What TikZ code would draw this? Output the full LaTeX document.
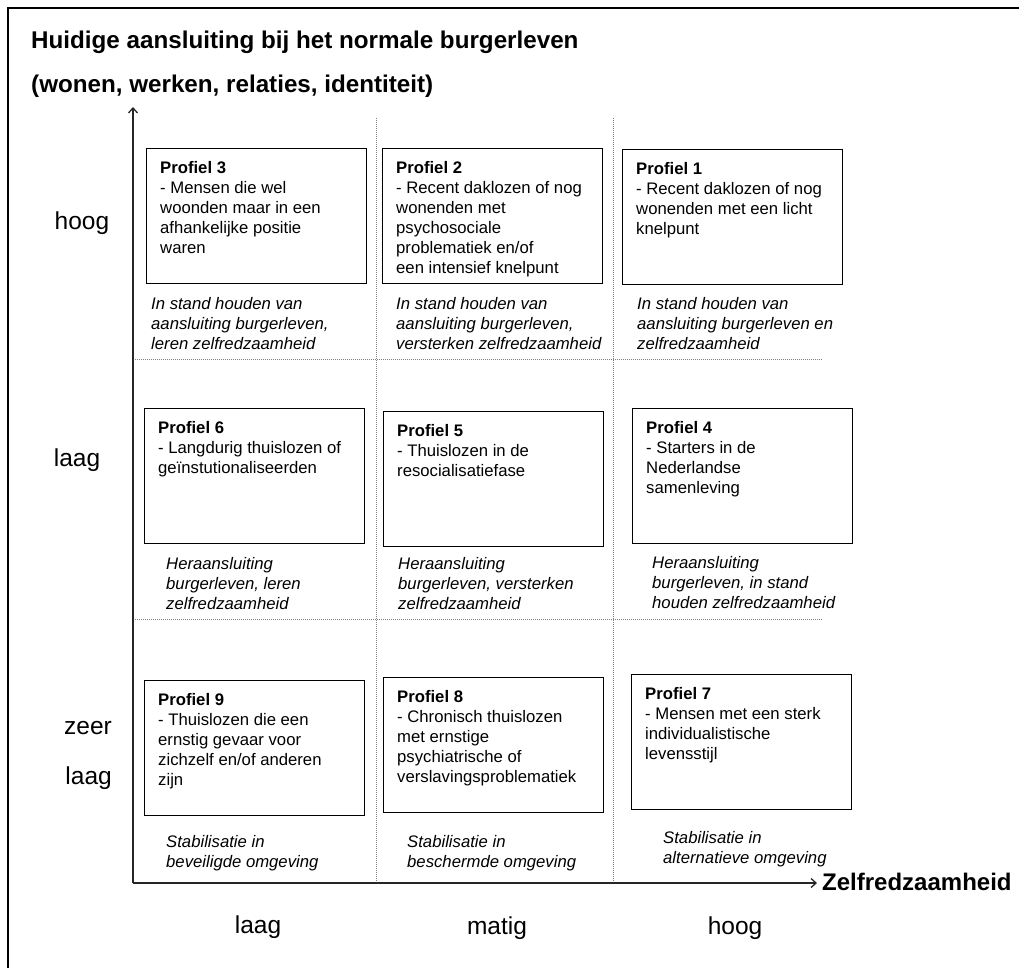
\documentclass[tikz,border=0pt]{standalone}
\usepackage{fontspec}
\setmainfont{Liberation Sans}
\usetikzlibrary{positioning, arrows.meta, calc}

\begin{document}
\begin{tikzpicture}[x=1pt, y=-1pt]
		\tikzset{
			>={Straight Barb[length=5pt, width=9pt]},
			pbox/.style={draw, line width=1.4pt, minimum width=219.5pt, minimum height=135pt, anchor=north west, inner sep=0pt},
			ptext/.style={anchor=north west, align=left, inner sep=0pt, font=\fontsize{16.7}{20}\selectfont},
			note/.style={anchor=north west, align=left, inner sep=0pt, font=\fontsize{16.7}{20}\selectfont\itshape},
			level/.style={inner sep=0pt, font=\fontsize{24.5}{50}\selectfont},
			heading/.style={anchor=base west, inner sep=0pt, font=\fontsize{24.2}{29}\selectfont\bfseries},
			axis/.style={line width=1.3pt, black!85},
			grid/.style={line width=1pt, gray, dash pattern=on 1pt off 1pt}
		}
		\useasboundingbox (0,0) rectangle (1019,967);
		
		% Frame
		\begin{scope}
			\clip (0,0) rectangle (1019,967);
			\draw[line width=2.4pt] (8,8) rectangle (1040,990);
		\end{scope}
		
		% Title
		\node[heading] (title1) at (31,48) {Huidige aansluiting bij het normale burgerleven};
		\node[heading] (title2) at (31,92) {(wonen, werken, relaties, identiteit)};
		
		% Grid
		\draw[grid] (376,118) -- (376,883);
		\draw[grid] (613,118) -- (613,883);
		\draw[grid] (133,359) -- (823,359);
		\draw[grid] (133,619) -- (823,619);
		
		% Axes
		\coordinate (origin) at (133,883);
		\coordinate (ytip) at (133,107);
		\node[anchor=west, inner sep=0pt, font=\fontsize{24}{29}\selectfont\bfseries] (zelf) at (822,882) {Zelfredzaamheid};
		\draw[axis, ->] (origin) -- (ytip);
		\draw[axis, ->] (origin) -- ([xshift=-5pt]origin -| zelf.west);
		
		% Levels
		\node[level] (hoog) at (82,223) {hoog};
		\node[level] (laag) at (77,460) {laag};
		\node[level, align=right, anchor=north east] (zeerlaag) at (112,721) {zeer\\laag};
		\node[level] (xlaag) at (258,927) {laag};
		\node[level] (xmatig) at (497,928) {matig};
		\node[level] (xhoog) at (735,928) {hoog};
		
		% Profile boxes
		\node[pbox] (p3) at (146,148) {};
		\node[pbox] (p2) at (382,148) {};
		\node[pbox] (p1) at (622,149) {};
		\node[pbox] (p6) at (144,408) {};
		\node[pbox] (p5) at (383,411) {};
		\node[pbox] (p4) at (632,408) {};
		\node[pbox] (p9) at (144,680) {};
		\node[pbox] (p8) at (383,677) {};
		\node[pbox] (p7) at (631,674) {};
		
		\node[ptext] (p3txt) at ([xshift=14pt, yshift=-13pt]p3.north west) {\textbf{Profiel 3}\\- Mensen die wel\\woonden maar in een\\afhankelijke positie\\waren};
		\node[ptext] (p2txt) at ([xshift=14pt, yshift=-13pt]p2.north west) {\textbf{Profiel 2}\\- Recent daklozen of nog\\wonenden met\\psychosociale\\problematiek en/of\\een intensief knelpunt};
		\node[ptext] (p1txt) at ([xshift=14pt, yshift=-13pt]p1.north west) {\textbf{Profiel 1}\\- Recent daklozen of nog\\wonenden met een licht\\knelpunt};
		\node[ptext] (p6txt) at ([xshift=14pt, yshift=-13pt]p6.north west) {\textbf{Profiel 6}\\- Langdurig thuislozen of\\geïnstutionaliseerden};
		\node[ptext] (p5txt) at ([xshift=14pt, yshift=-13pt]p5.north west) {\textbf{Profiel 5}\\- Thuislozen in de\\resocialisatiefase};
		\node[ptext] (p4txt) at ([xshift=14pt, yshift=-13pt]p4.north west) {\textbf{Profiel 4}\\- Starters in de\\Nederlandse\\samenleving};
		\node[ptext] (p9txt) at ([xshift=14pt, yshift=-13pt]p9.north west) {\textbf{Profiel 9}\\- Thuislozen die een\\ernstig gevaar voor\\zichzelf en/of anderen\\zijn};
		\node[ptext] (p8txt) at ([xshift=14pt, yshift=-13pt]p8.north west) {\textbf{Profiel 8}\\- Chronisch thuislozen\\met ernstige\\psychiatrische of\\verslavingsproblematiek};
		\node[ptext] (p7txt) at ([xshift=14pt, yshift=-13pt]p7.north west) {\textbf{Profiel 7}\\- Mensen met een sterk\\individualistische\\levensstijl};
		
		% Goals
		\node[note] (n3) at (151,297) {In stand houden van\\aansluiting burgerleven,\\leren zelfredzaamheid};
		\node[note] (n2) at (396,297) {In stand houden van\\aansluiting burgerleven,\\versterken zelfredzaamheid};
		\node[note] (n1) at (637,297) {In stand houden van\\aansluiting burgerleven en\\zelfredzaamheid};
		\node[note] (n6) at (166,557) {Heraansluiting\\burgerleven, leren\\zelfredzaamheid};
		\node[note] (n5) at (398,557) {Heraansluiting\\burgerleven, versterken\\zelfredzaamheid};
		\node[note] (n4) at (652,556) {Heraansluiting\\burgerleven, in stand\\houden zelfredzaamheid};
		\node[note] (n9) at (166,835) {Stabilisatie in\\beveiligde omgeving};
		\node[note] (n8) at (407,835) {Stabilisatie in\\beschermde omgeving};
		\node[note] (n7) at (663,831) {Stabilisatie in\\alternatieve omgeving};
		
	\end{tikzpicture}
\end{document}
